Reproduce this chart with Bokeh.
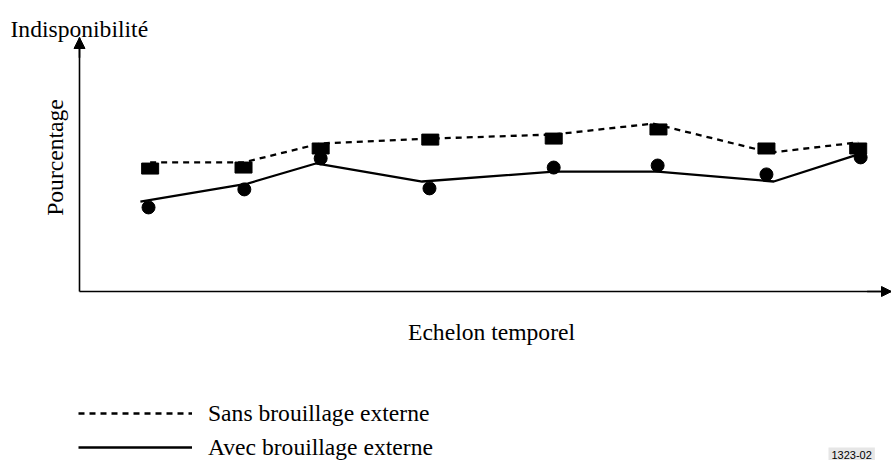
import math
from bokeh.plotting import figure
from bokeh.models import (Range1d, FixedTicker, Label, Legend, LegendItem,
                          Arrow, NormalHead)
from bokeh.embed import file_html
from bokeh.resources import INLINE

# ---- data (arbitrary units 0..100) ----
# "Sans brouillage externe" (dashed line + rectangle markers)
sans_line_x = [8.7, 20.2, 29.7, 43.2, 58.4, 70.6, 85.1, 95.9]
sans_line_y = [50.8, 50.8, 58.3, 60.2, 61.8, 66.1, 54.7, 58.7]
sans_mark_x = [8.7, 20.2, 29.7, 43.2, 58.4, 71.3, 84.6, 95.9]
sans_mark_y = [48.4, 48.8, 56.3, 59.8, 60.2, 63.8, 56.3, 56.3]

# "Avec brouillage externe" (solid line + circle markers)
avec_line_x = [7.5, 20.7, 29.1, 42.2, 58.4, 71.2, 85.5, 96.2]
avec_line_y = [35.4, 42.5, 50.4, 43.3, 47.2, 47.2, 43.3, 54.3]
avec_mark_x = [8.5, 20.3, 29.7, 43.1, 58.4, 71.2, 84.6, 96.2]
avec_mark_y = [33.1, 40.2, 52.4, 40.6, 48.8, 49.6, 46.1, 52.8]

y_title = "Indisponibilité"
y_label = "Pourcentage"
x_label = "Echelon temporel"
legend_labels = ["Sans brouillage externe", "Avec brouillage externe"]
doc_id = "1323-02"

SERIF = "Liberation Serif"
FS = "23.6px"

W, H = 891, 460
X0, Y0 = 79, 291          # pixel position of the origin in the canvas
SX, SY = 8.12, 2.54       # pixels per unit
x_end = (W - X0) / SX
p = figure(width=W, height=H, output_backend="svg", toolbar_location=None,
           x_range=Range1d(-X0 / SX, x_end),
           y_range=Range1d(-(H - Y0) / SY, Y0 / SY),
           min_border=0, outline_line_color=None,
           background_fill_color="white", border_fill_color="white")
p.grid.visible = False

for ax, b in ((p.xaxis[0], (0, x_end)), (p.yaxis[0], (0, 100))):
    ax.fixed_location = 0
    ax.bounds = b
    ax.ticker = FixedTicker(ticks=[])
    ax.major_tick_line_color = None
    ax.minor_tick_line_color = None
    ax.major_tick_out = 0
    ax.major_tick_in = 0
    ax.minor_tick_out = 0
    ax.minor_tick_in = 0
    ax.major_label_standoff = 0
    ax.axis_line_color = "black"
    ax.axis_line_width = 1.6
    ax.major_label_text_font_size = "0px"

# arrow heads on the axes
p.add_layout(Arrow(end=NormalHead(size=11, fill_color="black", line_color="black"),
                   x_start=0, y_start=92, x_end=0, y_end=100,
                   line_color="black", line_width=1.6))
p.add_layout(Arrow(end=NormalHead(size=10, fill_color="black", line_color="black"),
                   x_start=x_end - 3, y_start=0, x_end=x_end, y_end=0,
                   line_color="black", line_width=1.6))

# series
r_sans = p.line(sans_line_x, sans_line_y, line_color="black", line_width=2.3,
                line_dash="6 5")
p.rect(sans_mark_x, sans_mark_y, width=17, height=11, width_units="screen",
       height_units="screen", fill_color="black", line_color="black")

r_avec = p.line(avec_line_x, avec_line_y, line_color="black", line_width=2.3)
p.scatter(avec_mark_x, avec_mark_y, marker="circle", size=13,
          fill_color="black", line_color="black")

# texts
p.add_layout(Label(x=-8.5, y=103.15, text=y_title, text_font=SERIF,
                   text_font_size=FS, text_color="black",
                   text_align="left", text_baseline="alphabetic"))
p.add_layout(Label(x=50.74, y=-16.14, text=x_label, text_font=SERIF,
                   text_font_size=FS, text_color="black",
                   text_align="center", text_baseline="alphabetic"))
p.add_layout(Label(x=-2.96, y=52.76, text=y_label, text_font=SERIF,
                   text_font_size=FS, text_color="black", angle=math.pi / 2,
                   text_align="center", text_baseline="alphabetic"))
p.add_layout(Label(x=92.24, y=-61.42, text=doc_id, text_font="Liberation Sans",
                   text_font_size="11px", text_color="black",
                   text_align="left", text_baseline="top",
                   background_fill_color="#e6e6e6", padding=3))

legend = Legend(items=[LegendItem(label=legend_labels[0], renderers=[r_sans]),
                       LegendItem(label=legend_labels[1], renderers=[r_avec])],
                location=(78, -2), orientation="vertical",
                glyph_width=114, glyph_height=30, label_height=30,
                label_standoff=16, spacing=4, padding=0, margin=0,
                border_line_color=None, background_fill_alpha=0,
                label_text_font=SERIF, label_text_font_size=FS,
                label_text_baseline="alphabetic",
                label_text_color="black")
p.add_layout(legend)

open("out.html", "w").write(file_html(p, INLINE))
